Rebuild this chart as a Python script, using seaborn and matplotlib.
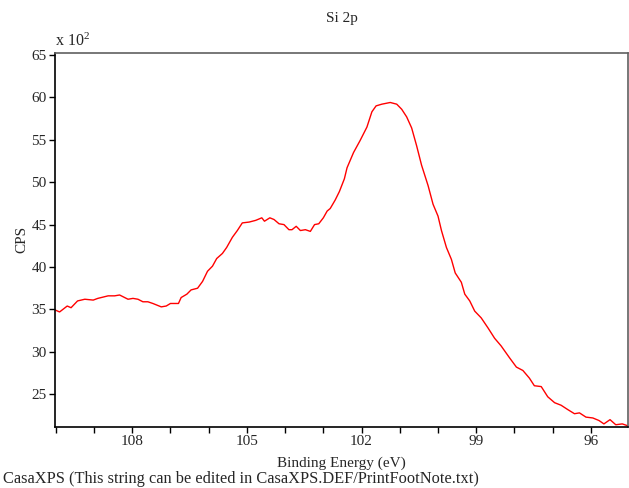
import matplotlib
matplotlib.use("Agg")
import matplotlib.pyplot as plt
import seaborn as sns
import pandas as pd
from matplotlib.ticker import MultipleLocator, FuncFormatter

binding_energy = [110.0, 109.9, 109.7, 109.6, 109.43, 109.24, 109.02, 108.9, 108.63, 108.46,
                  108.33, 108.11, 107.98, 107.85, 107.72, 107.59, 107.46, 107.24, 107.11, 107.0,
                  106.79, 106.72, 106.57, 106.46, 106.29, 106.16, 106.03, 105.9, 105.79, 105.64,
                  105.53, 105.38, 105.25, 105.12, 104.94, 104.77, 104.61, 104.54, 104.4, 104.29,
                  104.16, 104.03, 103.9, 103.82, 103.71, 103.6, 103.47, 103.34, 103.23, 103.12,
                  103.0, 102.9, 102.82, 102.69, 102.58, 102.45, 102.38, 102.21, 102.04, 101.86,
                  101.73, 101.62, 101.47, 101.25, 101.08, 100.95, 100.82, 100.69, 100.56, 100.43,
                  100.26, 100.13, 100.0, 99.91, 99.78, 99.65, 99.55, 99.39, 99.3, 99.17,
                  99.04, 98.87, 98.69, 98.52, 98.35, 98.13, 97.95, 97.78, 97.61, 97.48,
                  97.3, 97.13, 96.95, 96.78, 96.61, 96.43, 96.3, 96.13, 95.95, 95.79,
                  95.66, 95.5, 95.35, 95.18, 95.05]
cps_x100 = [34.9, 34.7, 35.4, 35.2, 36.0, 36.2, 36.1, 36.3, 36.6, 36.6,
            36.7, 36.2, 36.3, 36.2, 35.9, 35.9, 35.7, 35.3, 35.4, 35.7,
            35.7, 36.4, 36.8, 37.3, 37.5, 38.3, 39.5, 40.1, 41.0, 41.6,
            42.3, 43.5, 44.3, 45.2, 45.3, 45.5, 45.8, 45.4, 45.8, 45.6,
            45.1, 45.0, 44.4, 44.4, 44.8, 44.3, 44.4, 44.2, 45.0, 45.1,
            45.8, 46.6, 46.9, 47.9, 48.9, 50.4, 51.7, 53.5, 54.9, 56.5,
            58.3, 59.0, 59.2, 59.4, 59.2, 58.6, 57.7, 56.4, 54.3, 52.0,
            49.6, 47.4, 46.0, 44.3, 42.3, 40.9, 39.3, 38.2, 36.8, 36.0,
            34.8, 34.0, 32.8, 31.6, 30.7, 29.3, 28.2, 27.8, 26.9, 26.0,
            25.9, 24.7, 24.0, 23.7, 23.2, 22.7, 22.8, 22.3, 22.2, 21.9,
            21.5, 22.0, 21.4, 21.5, 21.3]
x_tick_labels = [108, 105, 102, 99, 96]
title = "Si 2p"

sns.set_style("white")
plt.rcParams['font.family'] = ['Liberation Serif', 'DejaVu Serif']
plt.rcParams['mathtext.fontset'] = 'custom'
plt.rcParams['mathtext.rm'] = 'Liberation Serif'
plt.rcParams['mathtext.it'] = 'Liberation Serif'

df = pd.DataFrame({"E": binding_energy, "CPS": cps_x100})

fig = plt.figure(figsize=(6.29, 4.88), dpi=100)
ax = fig.add_axes([55/629, 1 - 426.7/488, 573/629, (426.7 - 52.7)/488])
sns.lineplot(data=df, x="E", y="CPS", sort=False, estimator=None,
             color="#ff0000", linewidth=1.0, ax=ax)

ax.set_xlim(110.02, 95.03)
ax.set_ylim(21.17, 65.27)

ax.xaxis.set_major_locator(MultipleLocator(1))
ax.xaxis.set_major_formatter(FuncFormatter(
    lambda v, p: f"{int(round(v))}" if int(round(v)) in x_tick_labels else ""))
ax.yaxis.set_major_locator(MultipleLocator(5))
ax.yaxis.set_minor_locator(MultipleLocator(1))
ax.tick_params(axis='both', which='both', direction='out', color='black',
               width=1, labelsize=11, pad=2)
ax.tick_params(axis='x', which='major', length=4, pad=2)
ax.tick_params(axis='y', which='major', length=4)
ax.tick_params(axis='y', which='minor', length=4)
ax.tick_params(left=True, bottom=True)

for s in ['left', 'bottom']:
    ax.spines[s].set_color('black')
    ax.spines[s].set_linewidth(1.2)
for s in ['top', 'right']:
    ax.spines[s].set_color('#606060')
    ax.spines[s].set_linewidth(1.2)

ax.set_xlabel("Binding Energy (eV)", fontsize=11, labelpad=6)
ax.set_ylabel("CPS", fontsize=11, labelpad=2)
ax.set_title(title, fontsize=11, pad=22)
ax.text(0.0, 1.008, r"x 10$^{2}$", transform=ax.transAxes, fontsize=11.5,
        ha='left', va='bottom')
fig.text(3/629, 1 - 483/488, "CasaXPS (This string can be edited in CasaXPS.DEF/PrintFootNote.txt)",
         fontsize=11.8, ha='left', va='baseline')

fig.savefig("out.png", dpi=100)
